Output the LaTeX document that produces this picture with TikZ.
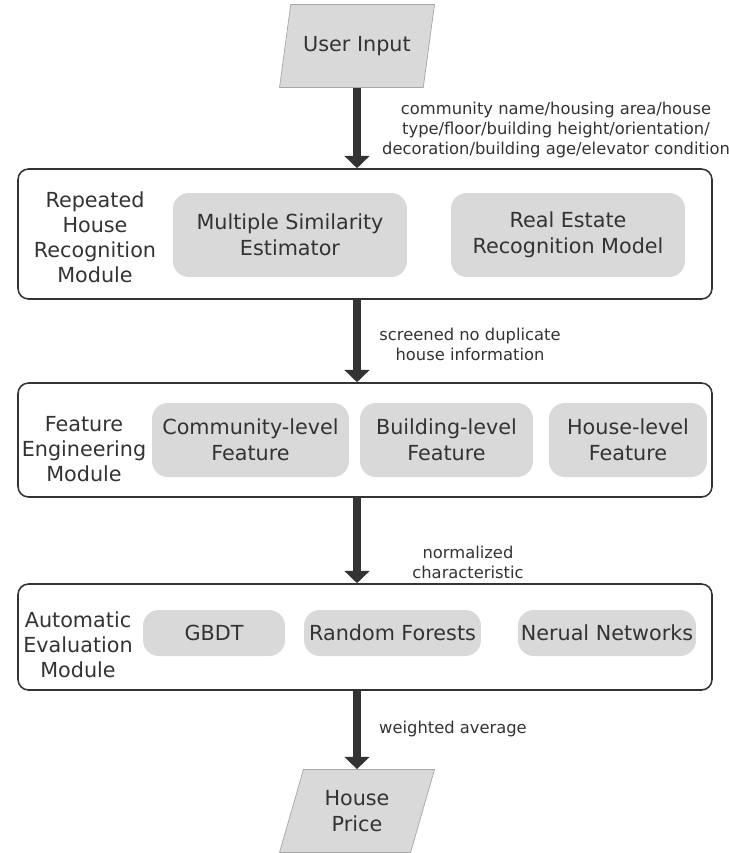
\documentclass[tikz,border=0pt]{standalone}
\usepackage{fontspec}
\setmainfont{DejaVu Sans}
\usetikzlibrary{shapes.geometric,arrows.meta,fit}
\definecolor{boxgray}{HTML}{D9D9D9}
\definecolor{linegray}{HTML}{333333}
\tikzset{
  modbox/.style={draw=linegray, line width=0.9pt, rounded corners=6pt, inner sep=0pt},
  partbox/.style={fill=boxgray, rounded corners=9pt, inner sep=0pt, align=center,
    text=linegray, font=\fontsize{11.8}{14.8}\selectfont},
  modlabel/.style={align=center, inner sep=0pt, text=linegray,
    font=\fontsize{11.8}{14.2}\selectfont},
  iobox/.style={trapezium, trapezium left angle=60, trapezium right angle=120,
    trapezium stretches body=true, fill=boxgray, draw=gray!70, line width=0.4pt,
    minimum width=3.1cm, minimum height=1.66cm, inner sep=0pt, align=center,
    text=linegray, font=\fontsize{11.8}{14.8}\selectfont},
  flow/.style={draw=linegray, line width=4.5pt, -{Triangle[width=14pt,length=7pt]}},
  flowlabel/.style={align=center, inner sep=0pt, text=linegray,
    font=\fontsize{9.3}{11.4}\selectfont}
}
\begin{document}
\begin{tikzpicture}[x=0.02cm,y=-0.02cm]
  \useasboundingbox (0,0) rectangle (728,853);
  % input / output
  \node[iobox] (in) at (357,46) {User Input};
  \node[iobox] (out) at (357,811) {House\\Price};
  % repeated house recognition
  \node[modbox, fit={(18,169) (712,299)}] (rhr) {};
  \node[modlabel] (rhrlab) at (95,237) {Repeated\\House\\Recognition\\Module};
  \node[partbox, minimum width=4.68cm, minimum height=1.68cm] (mse) at (290,235) {Multiple Similarity\\Estimator};
  \node[partbox, minimum width=4.68cm, minimum height=1.68cm] (rem) at (568,235) {Real Estate\\Recognition Model};
  % feature engineering
  \node[modbox, fit={(18,383) (712,497)}] (fem) {};
  \node[modlabel] (femlab) at (84,449) {Feature\\Engineering\\Module};
  \node[partbox, minimum width=3.94cm, minimum height=1.48cm] (cf) at (250.5,440) {Community-level\\Feature};
  \node[partbox, minimum width=3.46cm, minimum height=1.48cm] (bf) at (446.5,440) {Building-level\\Feature};
  \node[partbox, minimum width=3.16cm, minimum height=1.48cm] (hf) at (628,440) {House-level\\Feature};
  % automatic evaluation
  \node[modbox, fit={(18,584) (712,690)}] (aem) {};
  \node[modlabel] (aemlab) at (78,645) {Automatic\\Evaluation\\Module};
  \node[partbox, minimum width=2.84cm, minimum height=0.92cm] (gbdt) at (214,633) {GBDT};
  \node[partbox, minimum width=3.54cm, minimum height=0.92cm] (rf) at (392.5,633) {Random Forests};
  \node[partbox, minimum width=3.56cm, minimum height=0.92cm] (nn) at (607,633) {Nerual Networks};
  % flow
  \draw[flow] (in.south) -- (in.south |- rhr.north);
  \draw[flow] (in.south |- rhr.south) -- (in.south |- fem.north);
  \draw[flow] (in.south |- fem.south) -- (in.south |- aem.north);
  \draw[flow] (in.south |- aem.south) -- (out.north);
  \node[flowlabel] (l1) at (556,130) {community name/housing area/house\\type/floor/building height/orientation/\\decoration/building age/elevator condition};
  \node[flowlabel] (l2) at (470,344) {screened no duplicate\\house information};
  \node[flowlabel] (l3) at (468,562) {normalized\\characteristic};
  \node[flowlabel] (l4) at (453,729) {weighted average};
\end{tikzpicture}
\end{document}
